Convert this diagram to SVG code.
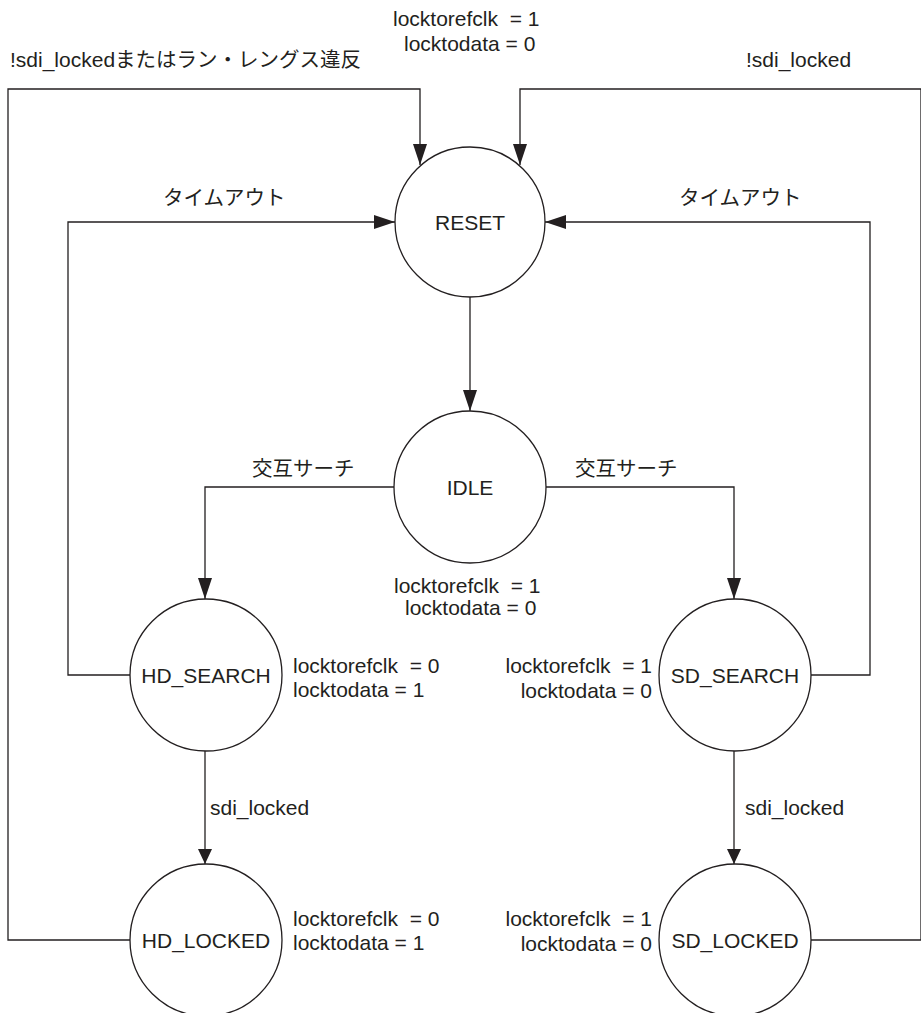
<svg xmlns="http://www.w3.org/2000/svg" width="921" height="1013" viewBox="0 0 921 1013">
<style>
text{font-family:"Liberation Sans","Noto Sans CJK JP",sans-serif;font-size:21px;fill:#231f20;white-space:pre}
.jp{font-size:20.5px}
.node circle{fill:#fff;stroke:#231f20;stroke-width:1.3}
.node text{text-anchor:middle}
.conn path{fill:none;stroke:#231f20;stroke-width:1.3}
.end{text-anchor:end}
</style>
<defs>
<marker id="arr" markerUnits="userSpaceOnUse" markerWidth="21" markerHeight="14" refX="21" refY="7" orient="auto">
<path d="M0,0 L21,7 L0,14 z" fill="#231f20"/>
</marker>
<marker id="arrs" markerUnits="userSpaceOnUse" markerWidth="15" markerHeight="14" refX="15" refY="7" orient="auto">
<path d="M0,0 L15,7 L0,14 z" fill="#231f20"/>
</marker>
</defs>
<rect width="921" height="1013" fill="#fff"/>
<g id="connectors" class="conn">
<path d="M130,940 H8 V89 H420 V165" marker-end="url(#arr)"/>
<path d="M811,940 H921 V89 H520 V165" marker-end="url(#arr)"/>
<path d="M130,675 H68 V222 H395" marker-end="url(#arr)"/>
<path d="M811,675 H870 V222 H545" marker-end="url(#arr)"/>
<path d="M470,297 V411" marker-end="url(#arr)"/>
<path d="M394,487 H205 V599" marker-end="url(#arr)"/>
<path d="M546,487 H734 V599" marker-end="url(#arr)"/>
<path d="M205,751 V864" marker-end="url(#arrs)"/>
<path d="M734,751 V864" marker-end="url(#arrs)"/>
</g>
<g id="labels">
<text x="10" y="67">!sdi_locked<tspan class="jp">またはラン・レングス違反</tspan></text>
<text x="746" y="67">!sdi_locked</text>
<text x="393" y="26">locktorefclk  = 1</text>
<text x="404" y="51">locktodata = 0</text>
<text class="jp" x="163" y="205">タイムアウト</text>
<text class="jp" x="679" y="205">タイムアウト</text>
<text class="jp" x="252" y="476">交互サーチ</text>
<text class="jp" x="575" y="476">交互サーチ</text>
<text x="394" y="593">locktorefclk  = 1</text>
<text x="405" y="615">locktodata = 0</text>
<text x="293" y="673">locktorefclk  = 0</text>
<text x="293" y="697">locktodata = 1</text>
<text x="293" y="926">locktorefclk  = 0</text>
<text x="293" y="950">locktodata = 1</text>
<text class="end" x="652" y="673">locktorefclk  = 1</text>
<text class="end" x="652" y="698">locktodata = 0</text>
<text class="end" x="652" y="926">locktorefclk  = 1</text>
<text class="end" x="652" y="951">locktodata = 0</text>
<text x="210" y="815">sdi_locked</text>
<text x="745" y="815">sdi_locked</text>
</g>
<g id="RESET" class="node"><circle cx="470" cy="222" r="75"/><text x="470" y="230">RESET</text></g>
<g id="IDLE" class="node"><circle cx="470" cy="487" r="76"/><text x="470" y="495">IDLE</text></g>
<g id="HD_SEARCH" class="node"><circle cx="206" cy="675" r="76"/><text x="206" y="683">HD_SEARCH</text></g>
<g id="SD_SEARCH" class="node"><circle cx="735" cy="675" r="76"/><text x="735" y="683">SD_SEARCH</text></g>
<g id="HD_LOCKED" class="node"><circle cx="206" cy="940" r="76"/><text x="206" y="948">HD_LOCKED</text></g>
<g id="SD_LOCKED" class="node"><circle cx="735" cy="940" r="76"/><text x="735" y="948">SD_LOCKED</text></g>
</svg>
